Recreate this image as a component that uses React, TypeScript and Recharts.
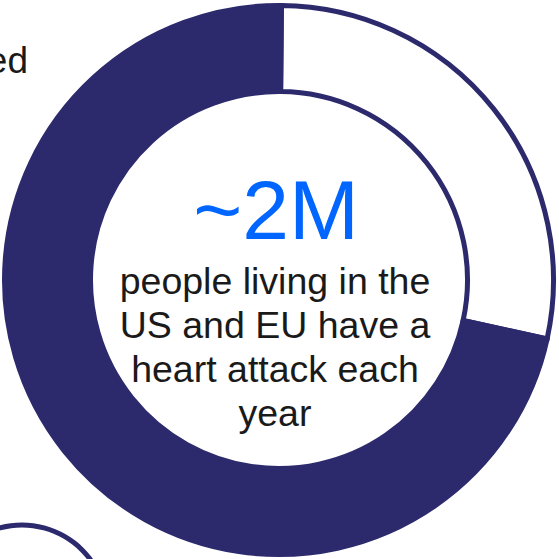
import { PieChart, Pie, Cell } from "recharts";

// Ring share, clockwise from 12 o'clock
const segmentNames = ["rest", "heart attack"];
const segmentValues = [28.3, 71.7];
const segmentFills = ["#ffffff", "#2c2a6c"];

// Decorative circle peeking in at the bottom-left
const ringValues = [1];

const headline = "~2M";
const bodyLines = ["people living in the", "US and EU have a", "heart attack each", "year"];
const cutWord = "ed";

const NAVY = "#2c2a6c";
const BLUE = "#0066ff";
const FONT = "'Liberation Sans', Arial, sans-serif";

export default function App() {
  const data = segmentNames.map((name, i) => ({ name, value: segmentValues[i] }));
  const ring = ringValues.map(v => ({ name: "ring", value: v }));

  return (
    <div style={{ position: "absolute", left: 0, top: 0, width: 559, height: 559, background: "#fff" }}>
      <PieChart width={559} height={559} margin={{ top: 0, right: 0, bottom: 0, left: 0 }}>
        <Pie
          data={data}
          dataKey="value"
          cx={279}
          cy={280}
          innerRadius={188.5}
          outerRadius={274.5}
          startAngle={89.5}
          endAngle={-270.5}
          stroke={NAVY}
          strokeWidth={5}
          isAnimationActive={false}
        >
          {data.map((d, i) => (
            <Cell key={d.name} fill={segmentFills[i]} />
          ))}
        </Pie>
        <Pie
          data={ring}
          dataKey="value"
          cx={22}
          cy={610}
          innerRadius={82.5}
          outerRadius={87.5}
          startAngle={90}
          endAngle={-270}
          fill={NAVY}
          stroke="none"
          isAnimationActive={false}
        />
      </PieChart>

      {/* center text */}
      <svg width={559} height={559} style={{ position: "absolute", left: 0, top: 0, pointerEvents: "none" }}>
        <text x={276} y={239} textAnchor="middle" fontFamily={FONT} fontSize={84} fill={BLUE}>
          {headline}
        </text>
        {bodyLines.map((line, i) => (
          <text
            key={line}
            x={275}
            y={294 + i * 44}
            textAnchor="middle"
            fontFamily={FONT}
            fontSize={37.5}
            fill="#1a1a1a"
          >
            {line}
          </text>
        ))}
        <text x={28} y={73} textAnchor="end" fontFamily={FONT} fontSize={37} fill="#1a1a1a">
          {cutWord}
        </text>
      </svg>
    </div>
  );
}
